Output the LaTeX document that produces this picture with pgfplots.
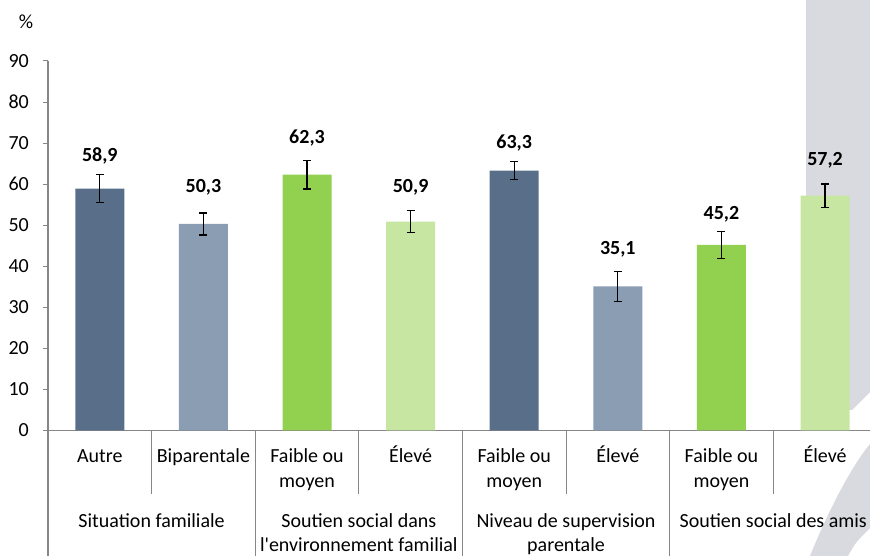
\documentclass[border=0pt]{standalone}
\usepackage{fontspec}
\setmainfont{Carlito}[Ligatures=TeXOff]
\usepackage{pgfplots}
\pgfplotsset{compat=1.18}
\definecolor{cA}{HTML}{596E88}
\definecolor{cB}{HTML}{8B9DB3}
\definecolor{cC}{HTML}{92D050}
\definecolor{cD}{HTML}{C6E6A2}
\definecolor{bggray}{HTML}{D9DADF}
\definecolor{axgray}{HTML}{868686}
\newcommand{\fs}{\fontsize{20}{24}\selectfont}
\pgfplotsset{errs/.style={draw=none, bar shift=0pt,
    error bars/.cd, y dir=both, y explicit,
    error bar style={black, line width=1.3pt},
    error mark options={black, line width=1.3pt, mark size=4pt, rotate=90}}}
\begin{document}
\begin{tikzpicture}[x=1pt,y=1pt]
\useasboundingbox (0,0) rectangle (870,556);
\clip (0,0) rectangle (870,556);
\fill[bggray] (806,146) -- (852,146) -- (870,164) -- (870,556) -- (806,556) -- cycle;
\fill[bggray] (870,112) .. controls (850,88) and (826,40) .. (810,0) -- (848,0) .. controls (856,14) .. (870,28) -- cycle;
\node[font=\fs] at (26,534) {\%};
\begin{axis}[
  at={(48pt,125.5pt)}, anchor=south west, scale only axis,
  width=822pt, height=369.5pt,
  xmin=-0.5, xmax=7.434, ymin=0, ymax=90,
  axis x line=bottom, axis y line=left,
  axis line style={draw=axgray, line width=1.5pt, -},
  xtick=\empty, ytick={0,10,...,90},
  tick align=outside, major tick length=5pt,
  ytick style={draw=axgray, line width=1pt},
  /pgf/number format/assume math mode=true,
  yticklabel style={font=\fs, inner sep=0pt, xshift=-14pt},
  ybar, bar width=49pt,
  clip=false,
]
\addplot[fill=cA, errs] coordinates {(0,58.9) +- (0,3.45) (4,63.3) +- (0,2.2)};
\addplot[fill=cB, errs] coordinates {(1,50.3) +- (0,2.65) (5,35.1) +- (0,3.65)};
\addplot[fill=cC, errs] coordinates {(2,62.3) +- (0,3.45) (6,45.2) +- (0,3.35)};
\addplot[fill=cD, errs] coordinates {(3,50.9) +- (0,2.7) (7,57.2) +- (0,2.85)};

\begin{scope}[font=\bfseries\fs]
\node[anchor=base] at (axis cs:0,65.4) {58,9};
\node[anchor=base] at (axis cs:1,57.9) {50,3};
\node[anchor=base] at (axis cs:2,70.0) {62,3};
\node[anchor=base] at (axis cs:3,57.9) {50,9};
\node[anchor=base] at (axis cs:4,68.8) {63,3};
\node[anchor=base] at (axis cs:5,42.8) {35,1};
\node[anchor=base] at (axis cs:6,51.3) {45,2};
\node[anchor=base] at (axis cs:7,64.5) {57,2};
\end{scope}

\draw[axgray, line width=1pt] (axis cs:0.5,0) -- ([yshift=-64pt]axis cs:0.5,0);
\draw[axgray, line width=1pt] (axis cs:2.5,0) -- ([yshift=-64pt]axis cs:2.5,0);
\draw[axgray, line width=1pt] (axis cs:4.5,0) -- ([yshift=-64pt]axis cs:4.5,0);
\draw[axgray, line width=1pt] (axis cs:6.5,0) -- ([yshift=-64pt]axis cs:6.5,0);
\draw[axgray, line width=1.3pt] (axis cs:-0.5,0) -- ([yshift=-130pt]axis cs:-0.5,0);
\draw[axgray, line width=1pt] (axis cs:1.5,0) -- ([yshift=-130pt]axis cs:1.5,0);
\draw[axgray, line width=1pt] (axis cs:3.5,0) -- ([yshift=-130pt]axis cs:3.5,0);
\draw[axgray, line width=1pt] (axis cs:5.5,0) -- ([yshift=-130pt]axis cs:5.5,0);

\begin{scope}[font=\fs]
\node[anchor=base] at ([yshift=-32.5pt]axis cs:0,0) {Autre};
\node[anchor=base] at ([yshift=-32.5pt]axis cs:1,0) {Biparentale};
\node[anchor=base] at ([yshift=-32.5pt]axis cs:2,0) {Faible ou};
\node[anchor=base] at ([yshift=-57.5pt]axis cs:2,0) {moyen};
\node[anchor=base] at ([yshift=-32.5pt]axis cs:3,0) {Élevé};
\node[anchor=base] at ([yshift=-32.5pt]axis cs:4,0) {Faible ou};
\node[anchor=base] at ([yshift=-57.5pt]axis cs:4,0) {moyen};
\node[anchor=base] at ([yshift=-32.5pt]axis cs:5,0) {Élevé};
\node[anchor=base] at ([yshift=-32.5pt]axis cs:6,0) {Faible ou};
\node[anchor=base] at ([yshift=-57.5pt]axis cs:6,0) {moyen};
\node[anchor=base] at ([yshift=-32.5pt]axis cs:7,0) {Élevé};
\node[anchor=base] at ([yshift=-97.5pt]axis cs:0.5,0) {Situation familiale};
\node[anchor=base] at ([yshift=-97.5pt]axis cs:2.5,0) {Soutien social dans};
\node[anchor=base] at ([yshift=-121pt]axis cs:2.5,0) {l'environnement familial};
\node[anchor=base] at ([yshift=-97.5pt]axis cs:4.5,0) {Niveau de supervision};
\node[anchor=base] at ([yshift=-121pt]axis cs:4.5,0) {parentale};
\node[anchor=base] at ([yshift=-97.5pt]axis cs:6.5,0) {Soutien social des amis};
\end{scope}
\end{axis}
\end{tikzpicture}
\end{document}
